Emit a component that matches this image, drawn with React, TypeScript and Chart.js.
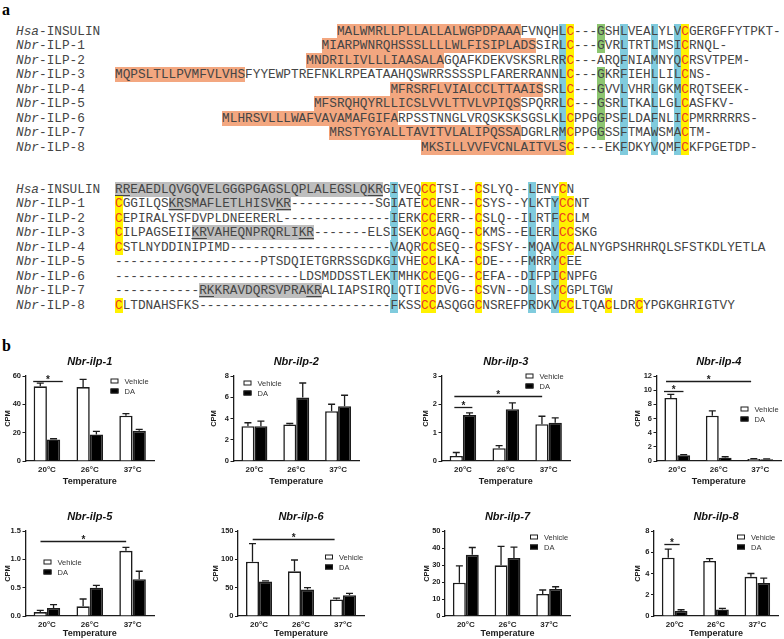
import React, { useEffect, useRef } from "react";
import { Chart, registerables } from "chart.js";
Chart.register(...registerables);

// ================= chart data =================
const temperatures = ["20°C", "26°C", "37°C"];
const groupNames = ["Vehicle", "DA"];
const panelTitles = ["Nbr-ilp-1", "Nbr-ilp-2", "Nbr-ilp-3", "Nbr-ilp-4", "Nbr-ilp-5", "Nbr-ilp-6", "Nbr-ilp-7", "Nbr-ilp-8"];

const ilp1Vehicle = [52.7, 52.2, 32.0];
const ilp1VehicleErr = [2.3, 5.4, 1.4];
const ilp1DA = [15.2, 18.7, 21.3];
const ilp1DAErr = [0.5, 2.2, 1.0];

const ilp2Vehicle = [3.28, 3.44, 4.69];
const ilp2VehicleErr = [0.32, 0.09, 0.65];
const ilp2DA = [3.28, 5.97, 5.16];
const ilp2DAErr = [0.47, 1.37, 1.03];

const ilp3Vehicle = [0.18, 0.45, 1.3];
const ilp3VehicleErr = [0.12, 0.09, 0.28];
const ilp3DA = [1.62, 1.83, 1.35];
const ilp3DAErr = [0.08, 0.22, 0.17];

const ilp4Vehicle = [8.9, 6.4, 0.28];
const ilp4VehicleErr = [0.5, 0.68, 0.05];
const ilp4DA = [0.8, 0.47, 0.25];
const ilp4DAErr = [0.1, 0.13, 0.06];

const ilp5Vehicle = [0.07, 0.17, 1.15];
const ilp5VehicleErr = [0.03, 0.13, 0.06];
const ilp5DA = [0.14, 0.5, 0.65];
const ilp5DAErr = [0.06, 0.04, 0.14];

const ilp6Vehicle = [95.7, 78.8, 29.2];
const ilp6VehicleErr = [32, 20, 2.3];
const ilp6DA = [60.7, 46.7, 36.8];
const ilp6DAErr = [1.3, 3.3, 3.2];

const ilp7Vehicle = [19.6, 29.8, 13.0];
const ilp7VehicleErr = [9.9, 11.1, 2.3];
const ilp7DA = [36.0, 34.1, 15.9];
const ilp7DAErr = [4.3, 6.4, 1.3];

const ilp8Vehicle = [5.49, 5.18, 3.69];
const ilp8VehicleErr = [0.81, 0.22, 0.31];
const ilp8DA = [0.47, 0.62, 3.1];
const ilp8DAErr = [0.12, 0.09, 0.47];

const yAxisMax = [60, 8, 3, 12, 1.5, 150, 50, 8];
const yAxisStep = [20, 2, 1, 2, 0.5, 50, 10, 2];
const yTickDecimals = [0, 0, 0, 0, 1, 0, 0, 0];

// significance bars: [from category, to category, at value]
const ilp1Sig = [[-0.32, 0.37, 56.5]];
const ilp2Sig: number[][] = [];
const ilp3Sig = [[-0.2, 1.85, 2.29], [-0.2, 0.22, 1.9]];
const ilp4Sig = [[-0.27, 1.78, 11.3], [-0.32, 0.15, 9.9]];
const ilp5Sig = [[-0.15, 1.85, 1.32]];
const ilp6Sig = [[-0.15, 1.8, 136]];
const ilp7Sig: number[][] = [];
const ilp8Sig = [[-0.25, 0.12, 6.8]];

const vehicleSeries = [ilp1Vehicle, ilp2Vehicle, ilp3Vehicle, ilp4Vehicle, ilp5Vehicle, ilp6Vehicle, ilp7Vehicle, ilp8Vehicle];
const vehicleErrors = [ilp1VehicleErr, ilp2VehicleErr, ilp3VehicleErr, ilp4VehicleErr, ilp5VehicleErr, ilp6VehicleErr, ilp7VehicleErr, ilp8VehicleErr];
const daSeries = [ilp1DA, ilp2DA, ilp3DA, ilp4DA, ilp5DA, ilp6DA, ilp7DA, ilp8DA];
const daErrors = [ilp1DAErr, ilp2DAErr, ilp3DAErr, ilp4DAErr, ilp5DAErr, ilp6DAErr, ilp7DAErr, ilp8DAErr];
const sigBars = [ilp1Sig, ilp2Sig, ilp3Sig, ilp4Sig, ilp5Sig, ilp6Sig, ilp7Sig, ilp8Sig];

// ================= alignment text =================
const rowSpecies = ["Hsa", "Nbr", "Nbr", "Nbr", "Nbr", "Nbr", "Nbr", "Nbr", "Nbr"];
const rowNames = ["INSULIN", "ILP-1", "ILP-2", "ILP-3", "ILP-4", "ILP-5", "ILP-6", "ILP-7", "ILP-8"];

const block1Seqs = [
  "MALWMRLLPLLALLALWGPDPAAAFVNQHLC---GSHLVEALYLVCGERGFFYTPKT-",
  "MIARPWNRQHSSSLLLLWLFISIPLADSSIRLC---GVRLTRTLMSICRNQL-",
  "MNDRILIVLLLIAASALAGQAFKDEKVSKSRLRRC---ARQFNIAMNYQCRSVTPEM-",
  "MQPSLTLLPVMFVLVHSFYYEWPTREFNKLRPEATAAHQSWRRSSSSPLFARERRANNLC---GKRFIEHLLILCNS-",
  "MFRSRFLVIALCCLTTAAISSRLC---GVVLVHRLGKMCRQTSEEK-",
  "MFSRQHQYRLLICSLVVLTTVLVPIQSSPQRRLC---GSRLTKALLGLCASFKV-",
  "MLHRSVLLLWAFVAVAMAFGIFARPSSTNNGLVRQSKSKSGSLKLCPPGGPSFLDAFNLICPMRRRRRS-",
  "MRSTYGYALLTAVITVLALIPQSSADGRLRMCPPGGSSFTMAWSMACTM-",
  "MKSILLVVFVCNLAITVLSC----EKFDKYVQMFCKFPGETDP-",
];
const block1Starts = [29, 27, 25, 0, 36, 26, 14, 28, 40];

const block2Seqs = [
  "RREAEDLQVGQVELGGGPGAGSLQPLALEGSLQKRGIVEQCCTSI--CSLYQ--LENYCN",
  "CGGILQSKRSMAFLETLHISVKR-----------SGIATECCENR--CSYS--YLKTYCCNT",
  "CEPIRALYSFDVPLDNEERERL--------------IERKCCERR--CSLQ--ILRTFCCLM",
  "CILPAGSEIIKRVAHEQNPRQRLIKR-------ELSISEKCCAGQ--CKMS--ELERLCCSKG",
  "CSTLNYDDINIPIMD---------------------VAQRCCSEQ--CSFSY--MQAVCCALNYGPSHRHRQLSFSTKDLYETLA",
  "-------------------PTSDQIETGRRSSGDKGIVHECCLKA--CDE---FMRRYCEE",
  "------------------------LDSMDDSSTLEKTMHKCCEQG--CEFA--DIFPICNPFG",
  "-----------RKKRAVDQRSVPRAKRALIAPSIRQLQTICCDVG--CSVN--DLLSYCGPLTGW",
  "CLTDNAHSFKS-------------------------FKSSCCASQGGCNSREFPRDKVCCLTQACLDRCYPGKGHRIGTVY",
];

// ================= styling / layout =================
const ORANGE = "#F3A780";
const BLUE = "#80CBDD";
const YELLOW = "#FFF200";
const GREEN = "#8CC570";
const GRAY = "#BEBEBE";
const RED = "#EC3A22";
const SEQ_INK = "#454545";
const ALL = [0, 1, 2, 3, 4, 5, 6, 7, 8];

const b1Signal = [[29, 52], [27, 54], [25, 42], [0, 16], [36, 55], [26, 52], [14, 36], [28, 52], [40, 58]];
const b1Cols = [
  { col: 58, bg: BLUE, rows: [0, 1, 2, 3, 4, 5, 6, 7] },
  { col: 59, bg: YELLOW, rows: ALL },
  { col: 63, bg: GREEN, rows: [0, 1, 3, 4, 5, 6, 7] },
  { col: 66, bg: BLUE, rows: ALL },
  { col: 70, bg: BLUE, rows: ALL },
  { col: 73, bg: BLUE, rows: ALL },
  { col: 74, bg: YELLOW, rows: ALL },
];
const b2Gray: Record<number, number[]> = { 0: [0, 34], 1: [7, 22], 3: [10, 25], 7: [11, 26] };
const b2Under: Record<number, number[][]> = {
  0: [[0, 1], [33, 34]],
  1: [[7, 8], [21, 22]],
  3: [[10, 11], [24, 25]],
  7: [[11, 12], [25, 26]],
};
const b2Cols = [
  { col: 0, bg: YELLOW, rows: [1, 2, 3, 4, 8] },
  { col: 36, bg: BLUE, rows: ALL },
  { col: 40, bg: YELLOW, rows: ALL },
  { col: 41, bg: YELLOW, rows: ALL },
  { col: 47, bg: YELLOW, rows: ALL },
  { col: 54, bg: BLUE, rows: ALL },
  { col: 57, bg: BLUE, rows: [1, 2, 3, 4, 5, 6, 7, 8] },
  { col: 58, bg: YELLOW, rows: ALL },
  { col: 59, bg: YELLOW, rows: [1, 2, 3, 4, 8] },
  { col: 64, bg: YELLOW, rows: [8] },
  { col: 68, bg: YELLOW, rows: [8] },
];

const MONO = "'Liberation Mono', 'DejaVu Sans Mono', monospace";
const SEQ_SIZE = 12.75;
const CHW = SEQ_SIZE * 0.60009765625;
const COL0 = 115;
const ROW_H = 14.5;
const B1_Y = 32;
const B2_Y = 190;

type Cell = { bg: string; color: string; u: boolean };

function cellFor(block: number, row: number, col: number): Cell {
  let bg = "";
  let color = SEQ_INK;
  let u = false;
  if (block === 1) {
    const [a, b] = b1Signal[row];
    if (col >= a && col <= b) bg = ORANGE;
    for (const c of b1Cols) if (c.col === col && c.rows.includes(row)) bg = c.bg;
  } else {
    const g = b2Gray[row];
    if (g && col >= g[0] && col <= g[1]) bg = GRAY;
    const un = b2Under[row];
    if (un) for (const [a, b] of un) if (col >= a && col <= b) u = true;
    for (const c of b2Cols) if (c.col === col && c.rows.includes(row)) bg = c.bg;
  }
  if (bg === YELLOW) color = RED;
  return { bg, color, u };
}

function SeqLine({ block, row, seq, start, cy }: { block: number; row: number; seq: string; start: number; cy: number }) {
  const runs: { text: string; cell: Cell }[] = [];
  for (let i = 0; i < seq.length; i++) {
    const cell = cellFor(block, row, start + i);
    const last = runs[runs.length - 1];
    if (last && last.cell.bg === cell.bg && last.cell.color === cell.color && last.cell.u === cell.u) last.text += seq[i];
    else runs.push({ text: seq[i], cell });
  }
  return (
    <div
      style={{
        position: "absolute",
        left: COL0 + start * CHW,
        top: cy - ROW_H / 2,
        height: ROW_H,
        lineHeight: ROW_H + "px",
        fontFamily: MONO,
        fontSize: SEQ_SIZE,
        whiteSpace: "pre",
        color: SEQ_INK,
      }}
    >
      {runs.map((r, k) => (
        <span
          key={k}
          style={{
            background: r.cell.bg || "transparent",
            color: r.cell.color,
            textDecoration: r.cell.u ? "underline" : "none",
            textUnderlineOffset: "2px",
          }}
        >
          {r.text}
        </span>
      ))}
    </div>
  );
}

function RowLabel({ i, cy }: { i: number; cy: number }) {
  return (
    <div
      style={{
        position: "absolute",
        left: 16,
        top: cy - ROW_H / 2,
        height: ROW_H,
        lineHeight: ROW_H + "px",
        fontFamily: MONO,
        fontSize: SEQ_SIZE,
        whiteSpace: "pre",
        color: SEQ_INK,
      }}
    >
      <span style={{ fontStyle: "italic" }}>{rowSpecies[i]}</span>-{rowNames[i]}
    </div>
  );
}

// ================= bar panels =================
const FONT = "'Liberation Sans', Arial, sans-serif";
const INK = "#1c1c1c";
const TP = 26; // space above plot (title)
const RP = 6;

// plot rectangles [left, top, right, bottom], y-axis width, x-axis block height, legend offset
const panelRects = [
  [25, 376, 153, 461],
  [233, 376, 358, 461],
  [441, 376, 569, 461],
  [656, 376, 780, 461],
  [25, 531, 153, 616],
  [238, 531, 364, 616],
  [445, 531, 570, 616],
  [654, 531, 778, 616],
];
const panelXH = [26, 26, 26, 26, 23, 23, 23, 23];
const panelYW = [22.5, 24.5, 20.5, 23.5, 22.5, 27, 23, 21];
const panelLegend = [
  [85, 5],
  [10, 7],
  [84, 0],
  [84, 33],
  [18, 31],
  [87, 26],
  [85, 6],
  [83, 6],
];

const decorPlugin = {
  id: "decor",
  afterDatasetsDraw(chart: any, _args: any, opts: any) {
    const ctx = chart.ctx;
    const xs = chart.scales.x;
    const ys = chart.scales.y;
    ctx.save();
    ctx.strokeStyle = INK;
    ctx.lineWidth = 1.3;
    chart.data.datasets.forEach((ds: any, di: number) => {
      const meta = chart.getDatasetMeta(di);
      meta.data.forEach((bar: any, i: number) => {
        const v = ds.data[i];
        const e = ds.errors[i];
        const y0 = ys.getPixelForValue(v);
        const y1 = ys.getPixelForValue(v + e);
        ctx.beginPath();
        ctx.moveTo(bar.x, y0);
        ctx.lineTo(bar.x, y1);
        ctx.moveTo(bar.x - 3.5, y1);
        ctx.lineTo(bar.x + 3.5, y1);
        ctx.stroke();
      });
    });
    (opts.sig || []).forEach((s: number[]) => {
      const x0 = xs.getPixelForValue(s[0]);
      const x1 = xs.getPixelForValue(s[1]);
      const y = Math.round(ys.getPixelForValue(s[2])) + 0.5;
      ctx.lineWidth = 1.3;
      ctx.beginPath();
      ctx.moveTo(x0, y);
      ctx.lineTo(x1, y);
      ctx.stroke();
      ctx.fillStyle = INK;
      ctx.font = `bold 10px ${FONT}`;
      ctx.textAlign = "center";
      ctx.textBaseline = "alphabetic";
      ctx.fillText("*", (x0 + x1) / 2, y + 1.5);
    });
    ctx.restore();
  },
  afterDraw(chart: any, _args: any, opts: any) {
    const ctx = chart.ctx;
    const ca = chart.chartArea;
    ctx.save();
    ctx.fillStyle = "#111";
    ctx.font = `italic bold 11px ${FONT}`;
    ctx.textAlign = "center";
    ctx.textBaseline = "middle";
    ctx.fillText(opts.title, (ca.left + ca.right) / 2, ca.top - 14);
    chart.data.datasets.forEach((ds: any, i: number) => {
      const bx = ca.left + opts.lx;
      const by = ca.top + opts.ly + i * 10;
      ctx.fillStyle = ds.backgroundColor;
      ctx.fillRect(bx, by - 2.5, 8, 5);
      ctx.strokeStyle = INK;
      ctx.lineWidth = 1;
      ctx.strokeRect(bx + 0.5, by - 2, 7, 4);
      ctx.fillStyle = "#333";
      ctx.font = `7.5px ${FONT}`;
      ctx.textAlign = "left";
      ctx.textBaseline = "middle";
      ctx.fillText(ds.label, bx + 14, by + 0.5);
    });
    ctx.restore();
  },
};

function BarPanel({ idx }: { idx: number }) {
  const ref = useRef<HTMLCanvasElement>(null);
  const [pl, pt, pr, pb] = panelRects[idx];
  const yw = panelYW[idx];
  const xh = panelXH[idx];
  const W = Math.round(yw + (pr - pl) + RP);
  const H = TP + (pb - pt) + xh;
  useEffect(() => {
    if (!ref.current) return;
    const dec = yTickDecimals[idx];
    const chart = new Chart(ref.current, {
      type: "bar",
      data: {
        labels: temperatures,
        datasets: [
          {
            label: groupNames[0],
            data: vehicleSeries[idx],
            errors: vehicleErrors[idx],
            backgroundColor: "#ffffff",
            borderColor: INK,
            borderWidth: 1.6,
            borderSkipped: "bottom",
            categoryPercentage: 0.62,
            barPercentage: 1,
          } as any,
          {
            label: groupNames[1],
            data: daSeries[idx],
            errors: daErrors[idx],
            backgroundColor: "#000000",
            borderColor: INK,
            borderWidth: 1.6,
            borderSkipped: "bottom",
            categoryPercentage: 0.62,
            barPercentage: 1,
          } as any,
        ],
      },
      options: {
        animation: false,
        responsive: false,
        maintainAspectRatio: false,
        layout: { padding: { top: TP, left: 0, right: RP, bottom: 0 } },
        plugins: {
          legend: { display: false },
          tooltip: { enabled: false },
          title: { display: false },
          decor: {
            title: panelTitles[idx],
            sig: sigBars[idx],
            lx: panelLegend[idx][0],
            ly: panelLegend[idx][1],
          },
        } as any,
        scales: {
          x: {
            offset: true,
            grid: { display: false, drawTicks: false, tickLength: 0 },
            border: { display: true, color: INK, width: 1.3 },
            ticks: {
              color: INK,
              font: { family: FONT, size: 8, weight: "bold" },
              padding: 4,
              maxRotation: 0,
              autoSkip: false,
            },
            title: {
              display: true,
              text: "Temperature",
              color: INK,
              font: { family: FONT, size: 9, weight: "bold" },
              padding: 0,
            },
            afterFit: (s: any) => {
              s.height = xh;
            },
          },
          y: {
            min: 0,
            max: yAxisMax[idx],
            grid: { display: true, drawOnChartArea: false, drawTicks: true, tickLength: 3, color: INK, lineWidth: 1 },
            border: { display: true, color: INK, width: 1.3 },
            ticks: {
              stepSize: yAxisStep[idx],
              color: INK,
              padding: 1.5,
              font: { family: FONT, size: 7.5, weight: "bold" },
              callback: (v: any) => Number(v).toFixed(dec),
            },
            title: {
              display: true,
              text: "CPM",
              color: INK,
              font: { family: FONT, size: 7.5, weight: "bold" },
              padding: { top: 0, bottom: 0 },
            },
            afterFit: (s: any) => {
              s.width = yw;
            },
          },
        },
      } as any,
      plugins: [decorPlugin as any],
    });
    return () => chart.destroy();
  }, [idx]);
  return (
    <canvas
      ref={ref}
      width={W}
      height={H}
      style={{ position: "absolute", left: pl - yw, top: pt - TP, width: W, height: H }}
    />
  );
}

export default function App() {
  const serif = "'Liberation Serif', 'DejaVu Serif', serif";
  return (
    <div
      style={{
        position: "fixed",
        left: 0,
        top: 0,
        width: 784,
        height: 639,
        overflow: "hidden",
        background: "#ffffff",
      }}
    >
      <div style={{ position: "absolute", left: 2, top: 1, fontFamily: serif, fontWeight: "bold", fontSize: 16, lineHeight: "18px" }}>a</div>
      <div style={{ position: "absolute", left: 2, top: 337, fontFamily: serif, fontWeight: "bold", fontSize: 16, lineHeight: "18px" }}>b</div>
      {block1Seqs.map((s, i) => (
        <React.Fragment key={"b1" + i}>
          <RowLabel i={i} cy={B1_Y + i * ROW_H} />
          <SeqLine block={1} row={i} seq={s} start={block1Starts[i]} cy={B1_Y + i * ROW_H} />
        </React.Fragment>
      ))}
      {block2Seqs.map((s, i) => (
        <React.Fragment key={"b2" + i}>
          <RowLabel i={i} cy={B2_Y + i * ROW_H} />
          <SeqLine block={2} row={i} seq={s} start={0} cy={B2_Y + i * ROW_H} />
        </React.Fragment>
      ))}
      {panelTitles.map((_, i) => (
        <BarPanel key={i} idx={i} />
      ))}
    </div>
  );
}
